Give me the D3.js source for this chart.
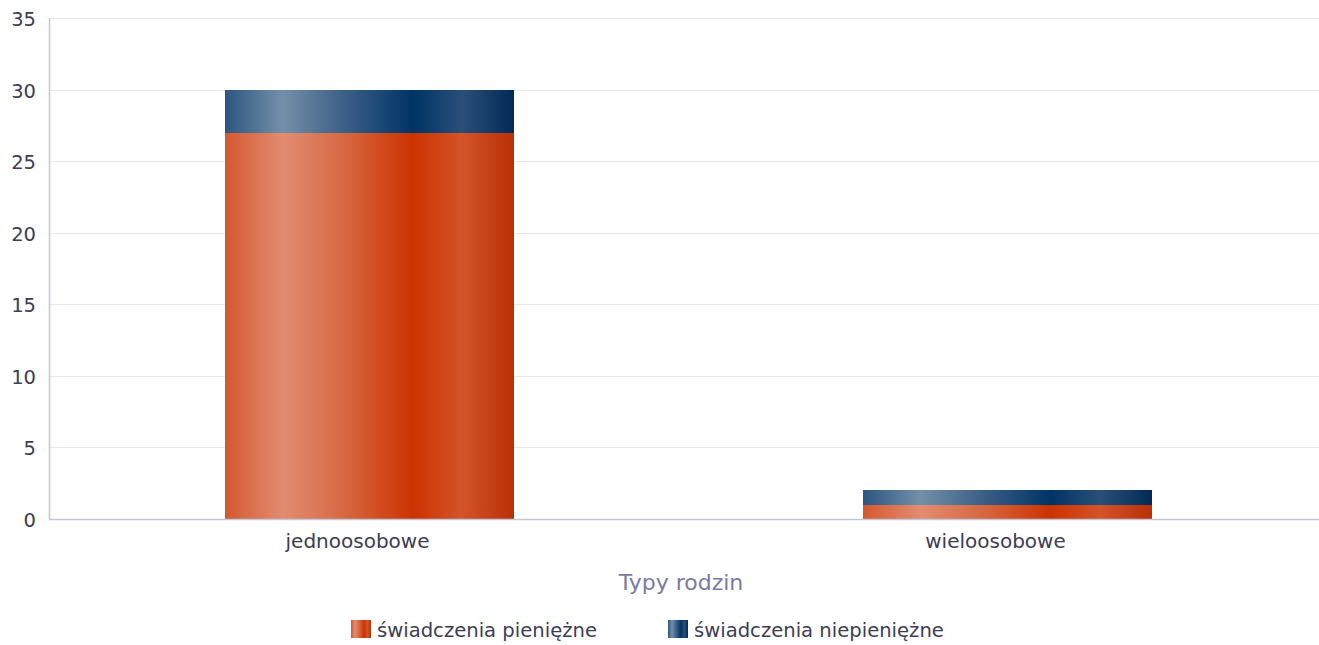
<!DOCTYPE html>
<html><head><meta charset="utf-8">
<script src="https://cdn.jsdelivr.net/npm/d3@7"></script>
<style>
html,body{margin:0;padding:0;background:#fff;}
svg{display:block;font-family:"DejaVu Sans",sans-serif;}
</style></head>
<body><svg id="chart" width="1319" height="645"></svg>
<script>
const categories = ["jednoosobowe", "wieloosobowe"];
const seriesNames = ["świadczenia pieniężne", "świadczenia niepieniężne"];
const pieniezne = [27, 1];
const niepieniezne = [3, 1];
const yTicks = [0, 5, 10, 15, 20, 25, 30, 35];
const axisTitle = "Typy rodzin";

(function () {
const W = 1319, H = 645;
const svg = d3.select("#chart");
const plotLeft = 49, plotTop = 18, plotBottom = 519;

const x = d3.scaleBand().domain(categories).range([50.5, 1326.5]).paddingInner(0.547).paddingOuter(0.2735);
const y = d3.scaleLinear().domain([0, 35]).range([plotBottom, plotTop]);

const defs = svg.append("defs");
function grad(id, stops) {
  const g = defs.append("linearGradient").attr("id", id).attr("x1", "0%").attr("x2", "100%").attr("y1", "0%").attr("y2", "0%");
  stops.forEach(s => g.append("stop").attr("offset", s[0]).attr("stop-color", s[1]));
}
grad("gOrange", [[0, "#d4582f"], [0.2, "#e28c72"], [0.4, "#d86a45"], [0.65, "#cc3300"], [0.82, "#d4532a"], [1, "#b83006"]]);
grad("gBlue", [[0, "#2c5580"], [0.2, "#7390a9"], [0.4, "#3f6289"], [0.65, "#003366"], [0.82, "#2a4f78"], [1, "#022a57"]]);

// gridlines
svg.append("g").selectAll("line").data(yTicks.filter(d => d > 0)).join("line")
  .attr("x1", plotLeft).attr("x2", W).attr("y1", d => Math.round(y(d)) + 0.5).attr("y2", d => Math.round(y(d)) + 0.5)
  .attr("stroke", "#e6e6ee").attr("stroke-width", 1);

// y labels
svg.append("g").selectAll("text").data(yTicks).join("text")
  .attr("x", 36).attr("y", d => y(d) + 8).attr("text-anchor", "end")
  .attr("font-size", 19.5).attr("fill", "#3d3d55").text(d => d);

// bars
const stackData = categories.map((c, i) => ({c, a: pieniezne[i], b: niepieniezne[i]}));
const stack = d3.stack().keys(["a", "b"])(stackData);
const fills = ["url(#gOrange)", "url(#gBlue)"];
stack.forEach((layer, li) => {
  svg.append("g").attr("shape-rendering", "crispEdges").selectAll("rect").data(layer).join("rect")
    .attr("x", d => x(d.data.c)).attr("width", x.bandwidth())
    .attr("y", d => Math.round(y(d[1]))).attr("height", d => Math.round(y(d[0])) - Math.round(y(d[1])))
    .attr("fill", fills[li]);
});

// axes lines
svg.append("line").attr("x1", plotLeft + 0.5).attr("x2", plotLeft + 0.5).attr("y1", plotTop).attr("y2", plotBottom)
  .attr("stroke", "#c3c6d8").attr("stroke-width", 1.5);
svg.append("line").attr("x1", plotLeft).attr("x2", W).attr("y1", plotBottom + 0.5).attr("y2", plotBottom + 0.5)
  .attr("stroke", "#c3c6d8").attr("stroke-width", 1.5);

// category labels
svg.append("g").selectAll("text").data(categories).join("text")
  .attr("x", d => x(d) + x.bandwidth() / 2 - 12).attr("y", 548).attr("text-anchor", "middle")
  .attr("font-size", 20).attr("fill", "#3d3d55").text(d => d);

svg.append("text").attr("x", 681).attr("y", 590).attr("text-anchor", "middle")
  .attr("font-size", 22).attr("fill", "#7a7aa2").text(axisTitle);

// legend
const legX = [351, 668];
const lg = svg.append("g").selectAll("g").data(seriesNames).join("g")
  .attr("transform", (d, i) => `translate(${legX[i]},620)`);
lg.append("rect").attr("width", 20).attr("height", 18).attr("fill", (d, i) => fills[i]);
lg.append("text").attr("x", 26).attr("y", 17).attr("font-size", 19.6).attr("fill", "#3d3d55").text(d => d);
})();
</script></body></html>
